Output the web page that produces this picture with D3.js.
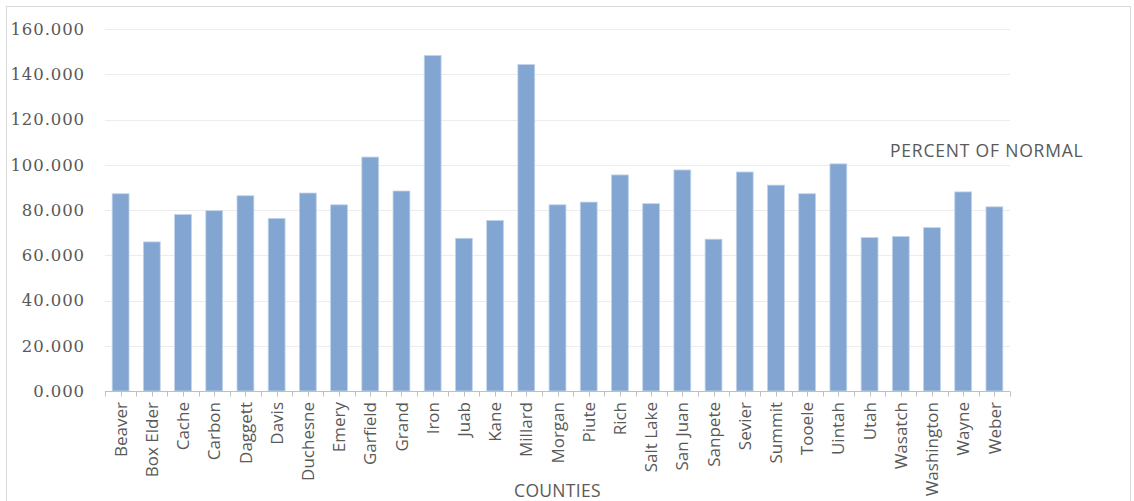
<!DOCTYPE html>
<html>
<head>
<meta charset="utf-8">
<script src="https://cdn.jsdelivr.net/npm/d3@7"></script>
<style>
  body { margin: 0; background: #fff; }
  svg { display: block; }
</style>
</head>
<body>
<svg id="chart"></svg>
<script>
const width = 1134;
const height = 501;

const counties = ["Beaver", "Box Elder", "Cache", "Carbon", "Daggett", "Davis", "Duchesne",
  "Emery", "Garfield", "Grand", "Iron", "Juab", "Kane", "Millard", "Morgan", "Piute",
  "Rich", "Salt Lake", "San Juan", "Sanpete", "Sevier", "Summit", "Tooele", "Uintah",
  "Utah", "Wasatch", "Washington", "Wayne", "Weber"];
const percentOfNormal = [87.2, 65.9, 78.0, 79.7, 86.3, 76.3, 87.5,
  82.3, 103.4, 88.4, 148.3, 67.5, 75.4, 144.3, 82.3, 83.5,
  95.5, 82.8, 97.7, 67.1, 96.8, 91.0, 87.2, 100.4,
  67.8, 68.3, 72.2, 88.0, 81.4];
const yTicks = [0, 20, 40, 60, 80, 100, 120, 140, 160];

const margin = { top: 29, right: 124, bottom: 110, left: 105 };

const svg = d3.select("#chart")
  .attr("width", width)
  .attr("height", height);

// chart frame
svg.append("rect")
  .attr("x", 6.5).attr("y", 6.5)
  .attr("width", 1124).attr("height", 500)
  .attr("fill", "none")
  .attr("stroke", "#d9d9d9");

const x = d3.scaleBand()
  .domain(counties)
  .range([margin.left, width - margin.right])
  .paddingInner(0.46)
  .paddingOuter(0.23);

const y = d3.scaleLinear()
  .domain([0, 160])
  .range([height - margin.bottom, margin.top]);

// gridlines
svg.append("g")
  .selectAll("line")
  .data(yTicks.filter(d => d > 0))
  .join("line")
  .attr("x1", margin.left)
  .attr("x2", width - margin.right)
  .attr("y1", d => Math.round(y(d)) + 0.5)
  .attr("y2", d => Math.round(y(d)) + 0.5)
  .attr("stroke", "#ececec");

// y labels
svg.append("g")
  .selectAll("text")
  .data(yTicks)
  .join("text")
  .attr("x", 85)
  .attr("y", d => y(d))
  .attr("dy", "0.36em")
  .attr("text-anchor", "end")
  .attr("font-family", "'DejaVu Serif', serif")
  .attr("font-size", 16.5)
  .attr("letter-spacing", 0.9)
  .attr("fill", "#595959")
  .text(d => d3.format(".3f")(d));

// bars
svg.append("g")
  .selectAll("rect")
  .data(counties)
  .join("rect")
  .attr("x", d => x(d))
  .attr("width", x.bandwidth())
  .attr("y", (d, i) => y(percentOfNormal[i]))
  .attr("height", (d, i) => y(0) - y(percentOfNormal[i]))
  .attr("fill", "#82a6d1")
  .attr("stroke", "#c3d4ea")
  .attr("stroke-width", 0.8);

// x axis line + ticks (band edges and centers)
const y0 = Math.round(y(0)) + 0.5;
const axis = svg.append("g").attr("stroke", "#bfbfbf");
axis.append("line")
  .attr("x1", margin.left).attr("x2", width - margin.right)
  .attr("y1", y0).attr("y2", y0);
const step = x.step();
const tickPos = d3.range(counties.length * 2 + 1).map(k => margin.left + k * step / 2);
axis.selectAll("line.tick")
  .data(tickPos)
  .join("line")
  .attr("class", "tick")
  .attr("x1", d => Math.round(d) + 0.5)
  .attr("x2", d => Math.round(d) + 0.5)
  .attr("y1", y0).attr("y2", y0 + 5);

// x labels rotated
svg.append("g")
  .selectAll("text")
  .data(counties)
  .join("text")
  .attr("transform", d => `translate(${x(d) + x.bandwidth() / 2},402) rotate(-90)`)
  .attr("dy", "0.36em")
  .attr("text-anchor", "end")
  .attr("font-family", "'Open Sans', sans-serif")
  .attr("font-size", 17)
  .attr("fill", "#595959")
  .text(d => d);

// axis title
svg.append("text")
  .attr("x", (margin.left + width - margin.right) / 2)
  .attr("y", 497)
  .attr("text-anchor", "middle")
  .attr("font-family", "'Open Sans', sans-serif")
  .attr("font-size", 17.5)
  .attr("letter-spacing", 0.3)
  .attr("fill", "#595959")
  .text("COUNTIES");

// legend
svg.append("text")
  .attr("x", 890)
  .attr("y", 157)
  .attr("font-family", "'Open Sans', sans-serif")
  .attr("font-size", 17.5)
  .attr("letter-spacing", 0.8)
  .attr("fill", "#595959")
  .text("PERCENT OF NORMAL");
</script>
</body>
</html>
